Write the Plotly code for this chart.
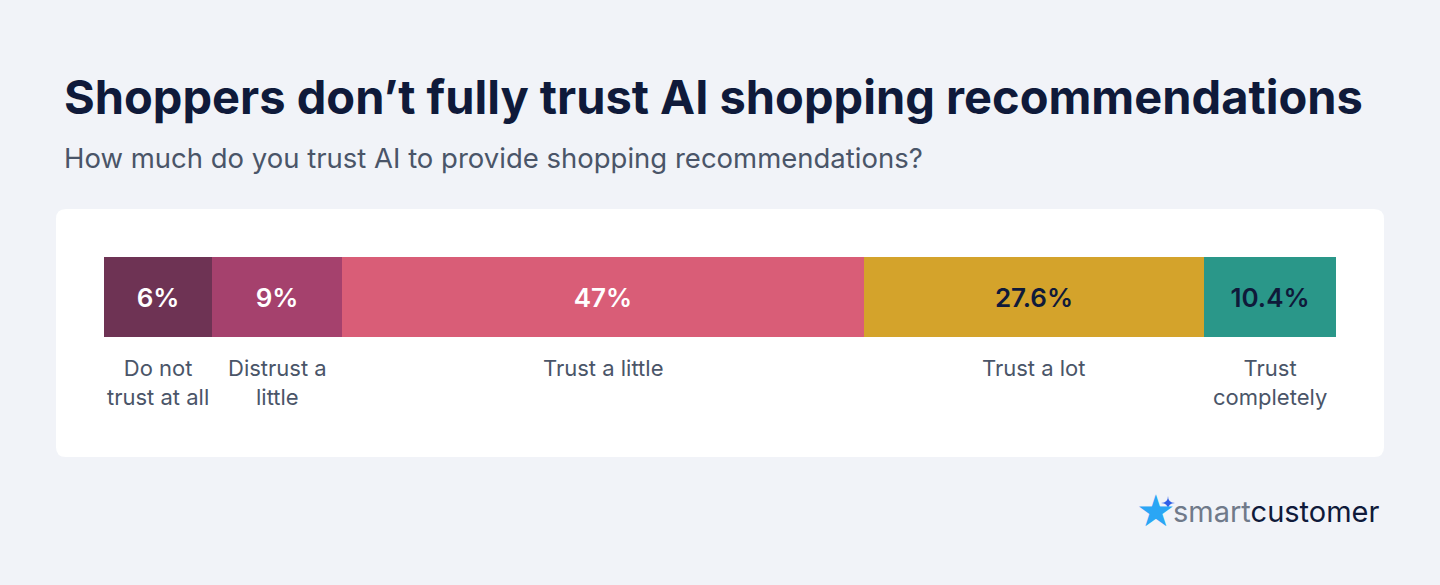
import plotly.graph_objects as go

W, H = 1440, 585
categories = ["Do not<br>trust at all", "Distrust a<br>little", "Trust a little", "Trust a lot", "Trust<br>completely"]
values = [6, 9, 47, 27.6, 10.4]
value_labels = ["6%", "9%", "47%", "27.6%", "10.4%"]
# displayed segment widths (small segments have a minimum width in the original)
display_share = [8.77, 10.55, 42.37, 27.6, 10.71]
colors = ["#6e3354", "#a5416d", "#d95d77", "#d4a32b", "#2a9789"]
text_colors = ["white", "white", "white", "#0f1a3a", "#0f1a3a"]

def px(x): return x / W
def py(y): return 1 - y / H

fig = go.Figure()
for c, v, lab, w, col, tc in zip(categories, values, value_labels, display_share, colors, text_colors):
    fig.add_trace(go.Bar(x=[w], y=[0], orientation="h", marker=dict(color=col, line=dict(width=0)),
                         text=[lab], textposition="inside", insidetextanchor="middle",
                         textfont=dict(family="Inter", size=26, color=tc, weight=600),
                         hoverinfo="skip", name=c))

anns = []
cum = 0
for c, w in zip(categories, display_share):
    anns.append(dict(x=cum + w / 2, y=py(353), xref="x", yref="paper", text=c, showarrow=False,
                     yanchor="top", font=dict(family="Inter", size=22, color="#4a5568")))
    cum += w

anns += [
    dict(x=px(62), y=py(97), xref="paper", yref="paper", xanchor="left", yanchor="middle", showarrow=False,
         text="<b>Shoppers don’t fully trust AI shopping recommendations</b>",
         font=dict(family="Inter", size=47, color="#0f1a3a")),
    dict(x=px(62), y=py(158), xref="paper", yref="paper", xanchor="left", yanchor="middle", showarrow=False,
         text="How much do you trust AI to provide shopping recommendations?",
         font=dict(family="Inter", size=27.5, color="#4a5568")),
    dict(x=px(1155), y=py(510), xref="paper", yref="paper", xanchor="center", yanchor="middle", showarrow=False,
         text="★", font=dict(family="DejaVu Sans", size=44, color="#2aa6f5")),
    dict(x=px(1382), y=py(511), xref="paper", yref="paper", xanchor="right", yanchor="middle", showarrow=False,
         text="<span style='color:#707a8a'>smart</span>customer",
         font=dict(family="Inter", size=29, color="#0f1a3a")),
]

# rounded card
x0, x1, y0, y1, r = px(56), px(1384), py(457), py(209), 10
rx, ry = r / W, r / H
path = (f"M {x0+rx},{y0} L {x1-rx},{y0} Q {x1},{y0} {x1},{y0+ry} L {x1},{y1-ry} Q {x1},{y1} {x1-rx},{y1} "
        f"L {x0+rx},{y1} Q {x0},{y1} {x0},{y1-ry} L {x0},{y0+ry} Q {x0},{y0} {x0+rx},{y0} Z")
# small diamond sparkle of the logo
cx, cy = 1168, 503
d = (f"M {px(cx)},{py(cy-7)} Q {px(cx)},{py(cy)} {px(cx+7)},{py(cy)} Q {px(cx)},{py(cy)} {px(cx)},{py(cy+7)} "
     f"Q {px(cx)},{py(cy)} {px(cx-7)},{py(cy)} Q {px(cx)},{py(cy)} {px(cx)},{py(cy-7)} Z")

fig.update_layout(
    width=W, height=H, margin=dict(l=0, r=0, t=0, b=0),
    paper_bgcolor="#f1f3f8", plot_bgcolor="rgba(0,0,0,0)",
    barmode="stack", bargap=0, showlegend=False,
    xaxis=dict(domain=[px(104), px(1336)], range=[0, sum(display_share)], visible=False, fixedrange=True),
    yaxis=dict(domain=[py(337), py(257)], range=[-0.5, 0.5], visible=False, fixedrange=True),
    shapes=[dict(type="path", path=path, xref="paper", yref="paper", fillcolor="white", line=dict(width=0), layer="below"),
            dict(type="path", path=d, xref="paper", yref="paper", fillcolor="#2f5fe8", line=dict(width=0), layer="above")],
    annotations=anns,
)
fig.write_html("out.html", config={"displayModeBar": False},
               post_script="document.body.style.margin='0';document.body.style.background='#f1f3f8';")
